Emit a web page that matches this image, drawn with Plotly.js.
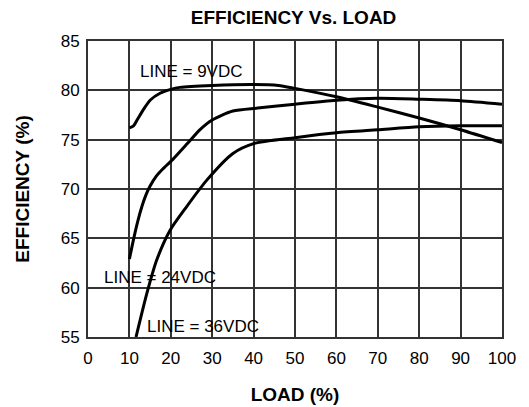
<!DOCTYPE html>
<html>
<head>
<meta charset="utf-8">
<script src="https://cdn.plot.ly/plotly-3.0.1.min.js"></script>
<style>html,body{margin:0;padding:0;background:#fff;}#chart{width:529px;height:407px;}</style>
</head>
<body>
<div id="chart"></div>
<script>
const load9 = [10, 11, 12, 13.3, 15, 17.4, 20, 22.2, 30, 40, 46, 50, 60, 70, 80, 90, 100];
const eff9  = [76.2, 76.4, 77.1, 78.0, 79.0, 79.7, 80.1, 80.3, 80.5, 80.6, 80.5, 80.2, 79.35, 78.3, 77.2, 76.0, 74.7];

const load24 = [10, 11, 12, 13, 14, 15, 16.5, 18, 20.5, 24, 27, 30, 35, 41, 50, 60, 70, 80, 90, 100];
const eff24  = [62.9, 64.9, 66.7, 68.2, 69.4, 70.3, 71.3, 72.0, 73.0, 74.6, 76.0, 77.0, 77.9, 78.2, 78.6, 79.0, 79.2, 79.1, 78.95, 78.6];

const load36 = [11.6, 14.2, 16.6, 19.8, 23.8, 28.7, 35, 40, 50, 60, 70, 80, 90, 100];
const eff36  = [55, 59.4, 62.8, 65.8, 68.2, 70.9, 73.6, 74.6, 75.2, 75.7, 76.0, 76.3, 76.4, 76.4];

const labels = ["LINE = 9VDC", "LINE = 24VDC", "LINE = 36VDC"];

const lineStyle = {color: "#000", width: 3, shape: "spline", smoothing: 0.7};
const data = [
  {x: load9, y: eff9, mode: "lines", line: lineStyle, hoverinfo: "skip"},
  {x: load24, y: eff24, mode: "lines", line: lineStyle, hoverinfo: "skip"},
  {x: load36, y: eff36, mode: "lines", line: lineStyle, hoverinfo: "skip"}
];

const font = "Liberation Sans, Arial, sans-serif";
const layout = {
  width: 529, height: 407,
  margin: {l: 88, r: 27, t: 41, b: 70},
  paper_bgcolor: "#fff", plot_bgcolor: "#fff",
  showlegend: false,
  title: {text: "<b>EFFICIENCY Vs. LOAD</b>", font: {family: font, size: 19, color: "#000"}, x: 0.555, xanchor: "center", y: 0.957, yanchor: "middle"},
  xaxis: {
    range: [0, 100], dtick: 10, tick0: 0,
    showgrid: true, gridcolor: "#333", gridwidth: 2,
    showline: true, linecolor: "#333", linewidth: 2, mirror: true,
    zeroline: false, ticks: "outside", ticklen: 5, tickcolor: "rgba(0,0,0,0)",
    tickfont: {family: font, size: 17, color: "#000"},
    title: {text: "<b>LOAD (%)</b>", font: {family: font, size: 19, color: "#000"}, standoff: 20}
  },
  yaxis: {
    range: [55, 85], dtick: 5, tick0: 55,
    showgrid: true, gridcolor: "#333", gridwidth: 2,
    showline: true, linecolor: "#333", linewidth: 2, mirror: true,
    zeroline: false, ticks: "outside", ticklen: 3, tickcolor: "rgba(0,0,0,0)",
    tickfont: {family: font, size: 17, color: "#000"},
    title: {text: "<b>EFFICIENCY (%)</b>", font: {family: font, size: 19, color: "#000"}, standoff: 26}
  },
  annotations: [
    {x: 12.1, y: 81.9, xref: "x", yref: "y", text: labels[0], showarrow: false, xanchor: "left", yanchor: "middle", font: {family: font, size: 17, color: "#000"}},
    {x: 3.4, y: 61.0, xref: "x", yref: "y", text: labels[1], showarrow: false, xanchor: "left", yanchor: "middle", font: {family: font, size: 17, color: "#000"}},
    {x: 13.8, y: 56.1, xref: "x", yref: "y", text: labels[2], showarrow: false, xanchor: "left", yanchor: "middle", font: {family: font, size: 17, color: "#000"}}
  ]
};

Plotly.newPlot("chart", data, layout, {staticPlot: true, displayModeBar: false});
</script>
</body>
</html>
